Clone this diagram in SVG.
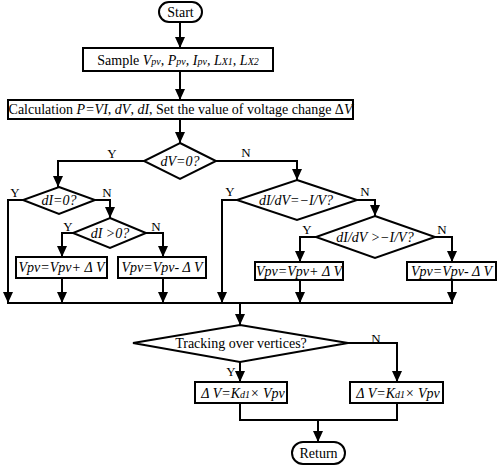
<svg xmlns="http://www.w3.org/2000/svg" width="498" height="466" viewBox="0 0 498 466">
<style>
.s{fill:#fff;stroke:#000;stroke-width:2}
.c{fill:none;stroke:#000;stroke-width:2;marker-end:url(#a)}
.n{fill:none;stroke:#000;stroke-width:2}
text{font-family:"Liberation Serif","Times New Roman",serif;font-size:14px;fill:#000;text-anchor:middle}
.i{font-style:italic}
.l{font-size:13px}
.sub{font-size:10px}
</style>
<defs>
<marker id="a" markerUnits="userSpaceOnUse" markerWidth="11" markerHeight="10" refX="11" refY="5" orient="auto">
<path d="M0,0 L11,5 L0,10 z" fill="#000"/>
</marker>
</defs>
<rect width="498" height="466" fill="#fff"/>
<g id="connectors">
<path class="c" d="M180,22 V48"/>
<path class="c" d="M180,71 V100"/>
<path class="c" d="M180,119 V143"/>
<path class="c" d="M144,161 H58 V187"/>
<path class="c" d="M23,200 H8 V303"/>
<path class="c" d="M95,200 H110 V218"/>
<path class="c" d="M73,233 H62 V257"/>
<path class="c" d="M146,233 H163 V257"/>
<path class="c" d="M62,278 V303"/>
<path class="c" d="M163,278 V303"/>
<path class="c" d="M216,161 H297 V180"/>
<path class="c" d="M237,200 H222 V303"/>
<path class="c" d="M357,200 H375 V216"/>
<path class="c" d="M316,237 H300 V262"/>
<path class="c" d="M435,237 H452 V262"/>
<path class="c" d="M300,280 V303"/>
<path class="c" d="M452,280 V303"/>
<path class="n" d="M7,303 H453"/>
<path class="c" d="M240,303 V325"/>
<path class="c" d="M240,362 V382"/>
<path class="c" d="M348,343 H397 V382"/>
<path class="n" d="M240,403 V420 H397 V403"/>
<path class="c" d="M318,420 V442"/>
<text class="l" x="112" y="158">Y</text>
<text class="l" x="246" y="157">N</text>
<text class="l" x="15" y="197">Y</text>
<text class="l" x="107" y="197">N</text>
<text class="l" x="68" y="231">Y</text>
<text class="l" x="156" y="231">N</text>
<text class="l" x="230" y="196">Y</text>
<text class="l" x="365" y="196">N</text>
<text class="l" x="307" y="234">Y</text>
<text class="l" x="442" y="234">N</text>
<text class="l" x="376" y="343">N</text>
<text class="l" x="231" y="376">Y</text>
</g>
<g id="start">
<rect class="s" x="159" y="2" width="43" height="20" rx="10"/>
<text x="180.5" y="17">Start</text>
</g>
<g id="sample">
<rect class="s" x="83" y="48" width="190" height="23"/>
<text x="178" y="65">Sample  <tspan class="i">V<tspan class="sub">pv</tspan>, P<tspan class="sub">pv</tspan>, I<tspan class="sub">pv</tspan>, L<tspan class="sub">X1</tspan>, L<tspan class="sub">X2</tspan></tspan></text>
</g>
<g id="calc">
<rect class="s" x="8" y="100" width="345" height="19"/>
<text x="180.5" y="114">Calculation <tspan class="i">P=VI</tspan>, <tspan class="i">dV</tspan>, <tspan class="i">dI</tspan>, Set the value of voltage change Δ<tspan class="i">V</tspan></text>
</g>
<g id="d1">
<path class="s" d="M180,143 L216,161 L180,179 L144,161 z"/>
<text class="i" x="180" y="166">dV=0?</text>
</g>
<g id="d2">
<path class="s" d="M59,187 L95,200 L59,214 L23,200 z"/>
<text class="i" x="59" y="205">dI=0?</text>
</g>
<g id="d3">
<path class="s" d="M110,218 L146,233 L110,248 L73,233 z"/>
<text class="i" x="110" y="238">dI &gt;0?</text>
</g>
<g id="d4">
<path class="s" d="M297,180 L357,200 L297,220 L237,200 z"/>
<text class="i" x="296" y="205">dI/dV=−I/V?</text>
</g>
<g id="d5">
<path class="s" d="M375,216 L435,237 L375,258 L316,237 z"/>
<text class="i" x="375" y="242">dI/dV &gt;−I/V?</text>
</g>
<g id="b1">
<rect class="s" x="16" y="257" width="91" height="21"/>
<text class="i" x="61.5" y="272">Vpv=Vpv+ Δ V</text>
</g>
<g id="b2">
<rect class="s" x="118" y="257" width="88" height="21"/>
<text class="i" x="162" y="272">Vpv=Vpv- Δ V</text>
</g>
<g id="b3">
<rect class="s" x="255" y="262" width="88" height="18"/>
<text class="i" x="299" y="275.5">Vpv=Vpv+ Δ V</text>
</g>
<g id="b4">
<rect class="s" x="407" y="262" width="89" height="18"/>
<text class="i" x="451.5" y="275.5">Vpv=Vpv- Δ V</text>
</g>
<g id="d6">
<path class="s" d="M240,325 L348,343 L240,362 L133,343 z"/>
<text x="241" y="348">Tracking over vertices?</text>
</g>
<g id="b5">
<rect class="s" x="195" y="382" width="92" height="21"/>
<text class="i" x="243" y="398">Δ V=K<tspan class="sub">d1</tspan>× Vpv</text>
</g>
<g id="b6">
<rect class="s" x="350" y="382" width="93" height="21"/>
<text class="i" x="398" y="398">Δ V=K<tspan class="sub">d1</tspan>× Vpv</text>
</g>
<g id="return">
<rect class="s" x="292" y="442" width="53" height="22" rx="11"/>
<text x="318.5" y="458">Return</text>
</g>
</svg>
